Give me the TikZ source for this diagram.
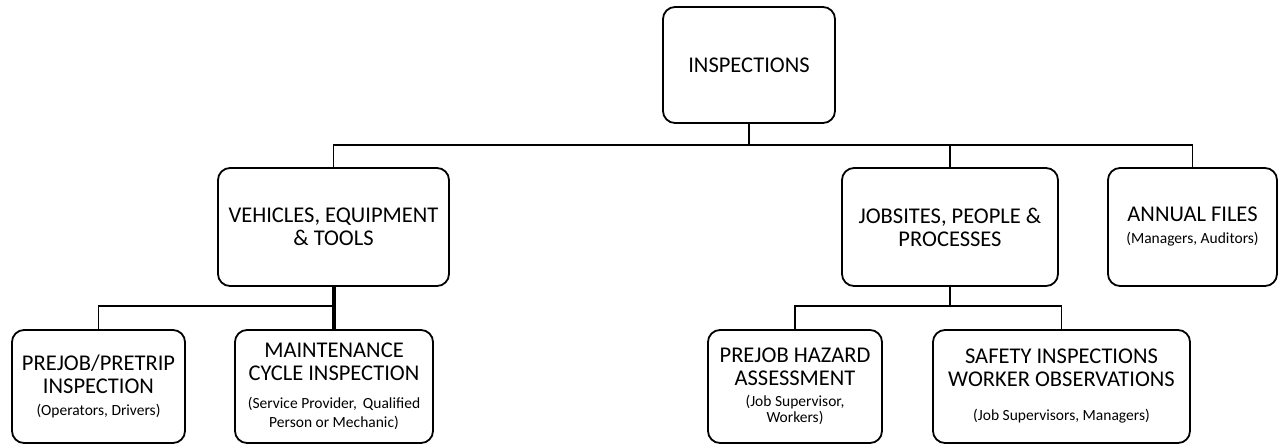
\documentclass[tikz,border=0pt]{standalone}
\usepackage{fontspec}
\setmainfont{Carlito}
\newcommand{\boxnote}[1]{{\fontsize{15.5}{17}\selectfont #1}}

\begin{document}
\begin{tikzpicture}[x=1pt, y=-1pt,
  box/.style={draw=black, line width=1.8pt, rounded corners=12pt, align=center,
    inner sep=0pt, font=\fontsize{22.5}{23}\selectfont},
  link/.style={draw=black, line width=1.4pt},
  trunk/.style={draw=black, line width=4pt}]
  \useasboundingbox (0,0) rectangle (1278,445);
  \node[box, minimum width=172pt, minimum height=116pt] (insp) at (749,65) {INSPECTIONS};
  \node[box, minimum width=231pt, minimum height=118pt] (vehicles) at (333.5,227) {VEHICLES, EQUIPMENT\\\& TOOLS};
  \node[box, minimum width=216pt, minimum height=118pt] (jobsites) at (950,227) {JOBSITES, PEOPLE \&\\PROCESSES};
  \node[box, minimum width=169pt, minimum height=118pt] (annual) at (1192.5,227) {ANNUAL FILES\\[-1pt]\boxnote{(Managers, Auditors)}};
  \node[box, minimum width=173pt, minimum height=113pt] (prejob) at (98.5,386.5) {PREJOB/PRETRIP\\INSPECTION\\[-1pt]\boxnote{(Operators, Drivers)}};
  \node[box, minimum width=198pt, minimum height=113pt] (maint) at (334,386.5) {MAINTENANCE\\CYCLE INSPECTION\\[5pt]\boxnote{(Service Provider,\, Qualified}\\[-4pt]\boxnote{Person or Mechanic)}};
  \node[box, minimum width=174pt, minimum height=113pt] (hazard) at (795,386.5) {PREJOB HAZARD\\ASSESSMENT\\[-2pt]\boxnote{(Job Supervisor,}\\[-7pt]\boxnote{Workers)}};
  \node[box, minimum width=257pt, minimum height=113pt] (safety) at (1061.5,386.5) {SAFETY INSPECTIONS\\WORKER OBSERVATIONS\\[11pt]\boxnote{(Job Supervisors, Managers)}};

  \coordinate (topbus) at (749,145);
  \draw[link] (insp.south) -- (topbus);
  \draw[link] (vehicles.north) |- (topbus) -| (annual.north);
  \draw[link] (jobsites.north) -- (jobsites.north |- topbus);

  \coordinate (leftbus) at (333.5,306);
  \draw[trunk] (vehicles.south) -- (vehicles.south |- maint.north);
  \draw[link] (prejob.north) |- (leftbus);

  \coordinate (rightbus) at (950,306);
  \draw[link] (jobsites.south) -- (rightbus);
  \draw[link] (hazard.north) |- (rightbus) -| (safety.north);
\end{tikzpicture}
\end{document}
